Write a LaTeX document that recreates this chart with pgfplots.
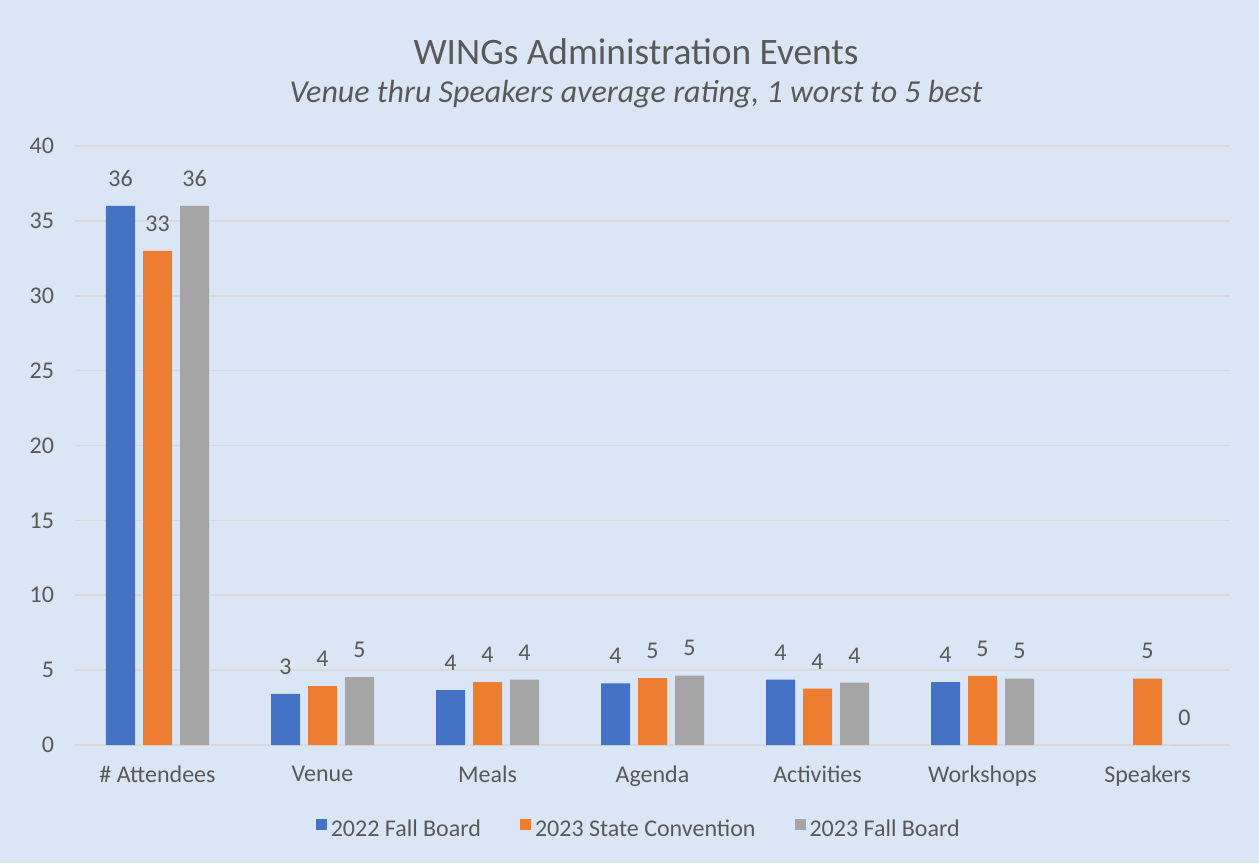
\documentclass[border=0pt]{standalone}
\usepackage{fontspec}
\setmainfont{Carlito}
\usepackage{pgfplots}
\pgfplotsset{compat=1.18}
\definecolor{sblue}{RGB}{68,114,196}
\definecolor{sorange}{RGB}{237,125,49}
\definecolor{sgray}{RGB}{165,165,165}
\definecolor{bg}{RGB}{218,230,245}
\definecolor{txt}{RGB}{89,89,89}
\definecolor{gridc}{RGB}{217,217,217}
\begin{document}
\begin{tikzpicture}
\fill[bg] (0pt,0pt) rectangle (629.5pt,431.5pt);
\useasboundingbox (0pt,0pt) rectangle (629.5pt,431.5pt);
\node[font=\fontsize{18.67}{22}\selectfont, text=txt, anchor=base] at (318pt,399pt) {WINGs Administration Events};
\node[font=\fontsize{16}{19}\selectfont\itshape, text=txt, anchor=base] at (318pt,380pt) {Venue thru Speakers average rating, 1 worst to 5 best};
\begin{axis}[
  at={(37.5pt,59pt)}, anchor=south west,
  scale only axis, width=577.5pt, height=299.5pt,
  ymin=0, ymax=40, ytick={0,5,...,40},
  xmin=-0.5, xmax=6.5, xtick={0,...,6},
  xticklabels={\# Attendees, Venue, Meals, Agenda, Activities, Workshops, Speakers},
  ybar=4pt, bar width=14.5pt,
  axis line style={draw=none},
  major tick length=0pt,
  ymajorgrids, grid style={gridc, line width=0.8pt},
  /pgf/number format/assume math mode=true,
  yticklabel style={font=\fontsize{12}{14}\selectfont, text=txt, xshift=-7pt},
  xticklabel style={font=\fontsize{12}{14}\selectfont, text=txt, yshift=-7pt},
  point meta=explicit symbolic,
  nodes near coords,
  nodes near coords style={font=\fontsize{12}{14}\selectfont, text=txt, anchor=south, inner sep=0pt, yshift=9.5pt},
  legend style={at={(0.489,-0.142)}, anchor=center, draw=none, fill=none,
    font=\fontsize{12}{14}\selectfont, text=txt,
    /tikz/every even column/.append style={column sep=17.5pt}},
  legend columns=3,
]
\addplot[fill=sblue, draw=none, legend image code/.code={\fill[sblue] (0pt,0pt) rectangle (5.5pt,5.5pt);}]
  coordinates {(0,36) [36] (1,3.41) [3] (2,3.66) [4] (3,4.12) [4] (4,4.37) [4] (5,4.2) [4]};
\addplot[fill=sorange, draw=none, legend image code/.code={\fill[sorange] (0pt,0pt) rectangle (5.5pt,5.5pt);}]
  coordinates {(0,33) [33] (1,3.93) [4] (2,4.2) [4] (3,4.46) [5] (4,3.76) [4] (5,4.61) [5] (6,4.44) [5]};
\addplot[fill=sgray, draw=none, legend image code/.code={\fill[sgray] (0pt,0pt) rectangle (5.5pt,5.5pt);}]
  coordinates {(0,36) [36] (1,4.54) [5] (2,4.37) [4] (3,4.64) [5] (4,4.16) [4] (5,4.44) [5] (6,0) [0]};
\legend{2022 Fall Board, 2023 State Convention, 2023 Fall Board}
\end{axis}
\end{tikzpicture}
\end{document}
